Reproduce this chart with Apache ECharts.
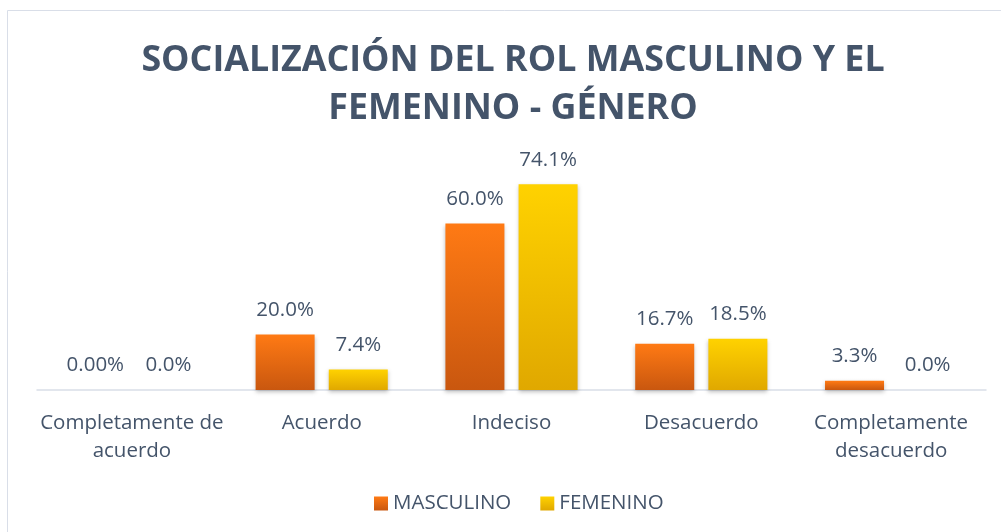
<!DOCTYPE html>
<html>
<head>
<meta charset="utf-8">
<script src="https://cdn.jsdelivr.net/npm/echarts@6/dist/echarts.min.js"></script>
<style>
  html, body { margin: 0; padding: 0; background: #fff; }
  #main { width: 1001px; height: 532px; }
</style>
</head>
<body>
<div id="main"></div>
<script>
var categories = ['Completamente de\nacuerdo', 'Acuerdo', 'Indeciso', 'Desacuerdo', 'Completamente\ndesacuerdo'];
var masculino = [0, 20.0, 60.0, 16.7, 3.3];
var femenino = [0, 7.4, 74.1, 18.5, 0];
var masculinoLabels = ['0.00%', '20.0%', '60.0%', '16.7%', '3.3%'];
var femeninoLabels = ['0.0%', '7.4%', '74.1%', '18.5%', '0.0%'];
var chartTitle = 'SOCIALIZACIÓN DEL ROL MASCULINO Y EL\nFEMENINO - GÉNERO';

var textColor = '#44546A';
var font = 'Open Sans';

var chart = echarts.init(document.getElementById('main'));

function grad(top, bottom) {
  return new echarts.graphic.LinearGradient(0, 0, 0, 1, [
    {offset: 0, color: top},
    {offset: 1, color: bottom}
  ]);
}

var option = {
  backgroundColor: '#fff',
  animation: false,
  graphic: [
    {
      type: 'rect',
      shape: {x: 7.5, y: 10.5, width: 1010, height: 540},
      style: {fill: 'none', stroke: '#D9DEE8', lineWidth: 1},
      silent: true
    },
    {
      // title drawn as text so it can sit slightly right of center like the original
      type: 'text',
      x: 513,
      y: 37,
      style: {
        text: chartTitle,
        align: 'center',
        verticalAlign: 'top',
        fill: textColor,
        fontFamily: font,
        fontWeight: 'bold',
        fontSize: 35.8,
        lineHeight: 48
      }
    }
  ],
  legend: {
    bottom: 13,
    left: 369,
    itemWidth: 14,
    itemHeight: 14,
    itemGap: 29,
    icon: 'rect',
    textStyle: {color: textColor, fontFamily: font, fontSize: 20.5}
  },
  grid: {left: 37, right: 15, top: 168, bottom: 142},
  xAxis: {
    type: 'category',
    data: categories,
    axisLine: {lineStyle: {color: '#D9DEE8', width: 1.5}},
    axisTick: {show: false},
    axisLabel: {
      color: textColor,
      fontFamily: font,
      fontSize: 20.5,
      lineHeight: 28,
      margin: 19,
      interval: 0
    }
  },
  yAxis: {
    type: 'value',
    min: 0,
    max: 80,
    show: false,
    splitLine: {show: false}
  },
  series: [
    {
      name: 'MASCULINO',
      type: 'bar',
      data: masculino,
      barWidth: 59,
      barGap: '24%',
      itemStyle: {
        color: grad('#FF7A14', '#C9570F'),
        shadowColor: 'rgba(0,0,0,0.25)',
        shadowBlur: 4,
        shadowOffsetY: 2
      },
      label: {
        show: true,
        position: 'top',
        distance: 14,
        color: textColor,
        fontFamily: font,
        fontSize: 20.5,
        formatter: function (p) { return masculinoLabels[p.dataIndex]; }
      }
    },
    {
      name: 'FEMENINO',
      type: 'bar',
      data: femenino,
      barWidth: 59,
      itemStyle: {
        color: grad('#FFD200', '#E0A800'),
        shadowColor: 'rgba(0,0,0,0.25)',
        shadowBlur: 4,
        shadowOffsetY: 2
      },
      label: {
        show: true,
        position: 'top',
        distance: 14,
        color: textColor,
        fontFamily: font,
        fontSize: 20.5,
        formatter: function (p) { return femeninoLabels[p.dataIndex]; }
      }
    }
  ]
};

chart.setOption(option);
</script>
</body>
</html>
